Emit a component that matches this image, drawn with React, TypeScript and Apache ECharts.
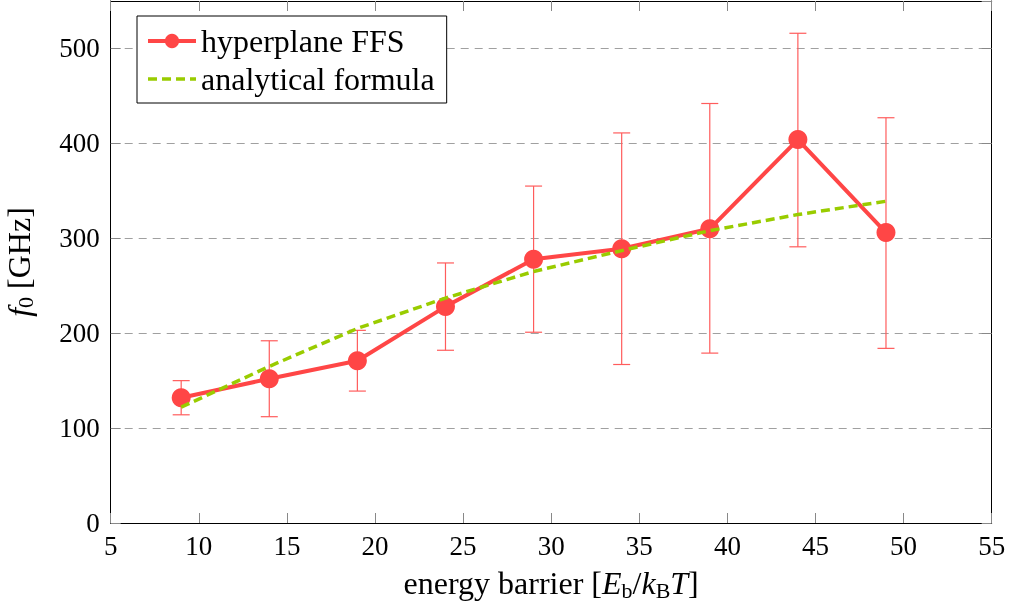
import React, { useEffect, useRef } from 'react';
import * as echarts from 'echarts';

const xValues = [9, 14, 19, 24, 29, 34, 39, 44, 49];
const ffsValues = [132, 152, 171, 228, 278, 289, 310, 404, 306];
const errHigh = [150, 192, 203, 274, 355, 411, 442, 516, 427];
const errLow = [114, 112, 139, 182, 201, 167, 179, 291, 184];
const formulaValues = [122, 165, 205, 237, 265, 287, 308, 325, 339];

const FONT = 'Liberation Serif';
const RED = '#ff4646';
const GREEN = '#99cc00';

export default function App() {
  const ref = useRef<HTMLDivElement>(null);
  useEffect(() => {
    const chart = echarts.init(ref.current!, null, { renderer: 'svg' });
    const rich = {
      r: { fontSize: 32, fontFamily: FONT, color: '#000', lineHeight: 36 },
      i: { fontSize: 32, fontFamily: FONT, fontStyle: 'italic', color: '#000', lineHeight: 36 },
      s: { fontSize: 22, fontFamily: FONT, color: '#000', lineHeight: 19, verticalAlign: 'bottom' },
    };
    const tickStyle = { show: true, inside: true, length: 10, lineStyle: { color: '#888', width: 1 } };
    chart.setOption({
      animation: false,
      textStyle: { fontFamily: FONT },
      grid: { left: 110.7, right: 18.3, top: 1, bottom: 83, containLabel: false, outerBoundsMode: 'none' },
      legend: {
        data: [
          { name: 'hyperplane FFS', lineStyle: { width: 4 } },
          { name: 'analytical formula', itemStyle: { opacity: 0 }, lineStyle: { width: 3.5 } },
        ],
        orient: 'vertical',
        left: 137,
        top: 16,
        borderColor: '#000',
        borderWidth: 1,
        borderRadius: 0,
        backgroundColor: '#fff',
        padding: [9, 12, 8, 9],
        itemWidth: 48,
        itemHeight: 18,
        itemGap: 6,
        textStyle: { fontSize: 32, fontFamily: FONT, color: '#000', lineHeight: 30 },
      },
      xAxis: [
        {
          type: 'value', min: 5, max: 55, interval: 5,
          position: 'bottom',
          name: '{r|energy barrier [}{i|E}{s|b}{r|/}{i|k}{s|B}{i|T}{r|]}',
          nameLocation: 'middle', nameGap: 42,
          nameTextStyle: { rich },
          axisLine: { show: true, onZero: false, lineStyle: { color: '#000', width: 1 } },
          axisTick: tickStyle,
          axisLabel: { color: '#000', fontSize: 27, fontFamily: FONT, margin: 9 },
          splitLine: { show: false },
        },
        {
          type: 'value', min: 5, max: 55, interval: 5,
          position: 'top',
          axisLine: { show: true, onZero: false, lineStyle: { color: '#000', width: 1 } },
          axisTick: tickStyle,
          axisLabel: { show: false },
          splitLine: { show: false },
        },
      ],
      yAxis: [
        {
          type: 'value', min: 0, max: 550, interval: 100,
          position: 'left',
          name: '{i|f}{s|0}{r| [GHz]}',
          nameLocation: 'middle', nameGap: 74, nameRotate: 90,
          nameTextStyle: { rich },
          axisLine: { show: true, onZero: false, lineStyle: { color: '#000', width: 1 } },
          axisTick: tickStyle,
          axisLabel: {
            color: '#000', fontSize: 27, fontFamily: FONT, margin: 11,
            showMaxLabel: false,
          },
          splitLine: { show: true, lineStyle: { color: '#a0a0a0', width: 1, type: [8, 6] } },
        },
        {
          type: 'value', min: 0, max: 550, interval: 100,
          position: 'right',
          axisLine: { show: true, onZero: false, lineStyle: { color: '#000', width: 1 } },
          axisTick: tickStyle,
          axisLabel: { show: false },
          splitLine: { show: false },
        },
      ],
      series: [
        {
          type: 'custom',
          name: 'errors',
          xAxisIndex: 0,
          yAxisIndex: 0,
          z: 1,
          data: xValues.map((x, i) => [x, errLow[i], errHigh[i]]),
          encode: { x: 0, y: [1, 2] },
          renderItem: (params: any, api: any) => {
            const x = api.value(0);
            const lo = api.value(1);
            const hi = api.value(2);
            const pHi = api.coord([x, hi]);
            const pLo = api.coord([x, lo]);
            const w = 8.5;
            const style = { stroke: '#ff5c5c', lineWidth: 1.2 };
            return {
              type: 'group',
              children: [
                { type: 'line', shape: { x1: pHi[0], y1: pHi[1], x2: pLo[0], y2: pLo[1] }, style },
                { type: 'line', shape: { x1: pHi[0] - w, y1: pHi[1], x2: pHi[0] + w, y2: pHi[1] }, style },
                { type: 'line', shape: { x1: pLo[0] - w, y1: pLo[1], x2: pLo[0] + w, y2: pLo[1] }, style },
              ],
            };
          },
        },
        {
          type: 'line',
          name: 'hyperplane FFS',
          z: 2,
          data: xValues.map((x, i) => [x, ffsValues[i]]),
          symbol: 'circle',
          symbolSize: 19,
          itemStyle: { color: RED },
          lineStyle: { color: RED, width: 4 },
        },
        {
          type: 'line',
          name: 'analytical formula',
          z: 3,
          data: xValues.map((x, i) => [x, formulaValues[i]]),
          symbol: 'none',
          itemStyle: { color: GREEN },
          lineStyle: { color: GREEN, width: 3.5, type: [9, 5] },
        },
      ],
    });
    return () => chart.dispose();
  }, []);
  return <div ref={ref} style={{ position: 'fixed', left: 0, top: 0, width: 1010, height: 606 }} />;
}
